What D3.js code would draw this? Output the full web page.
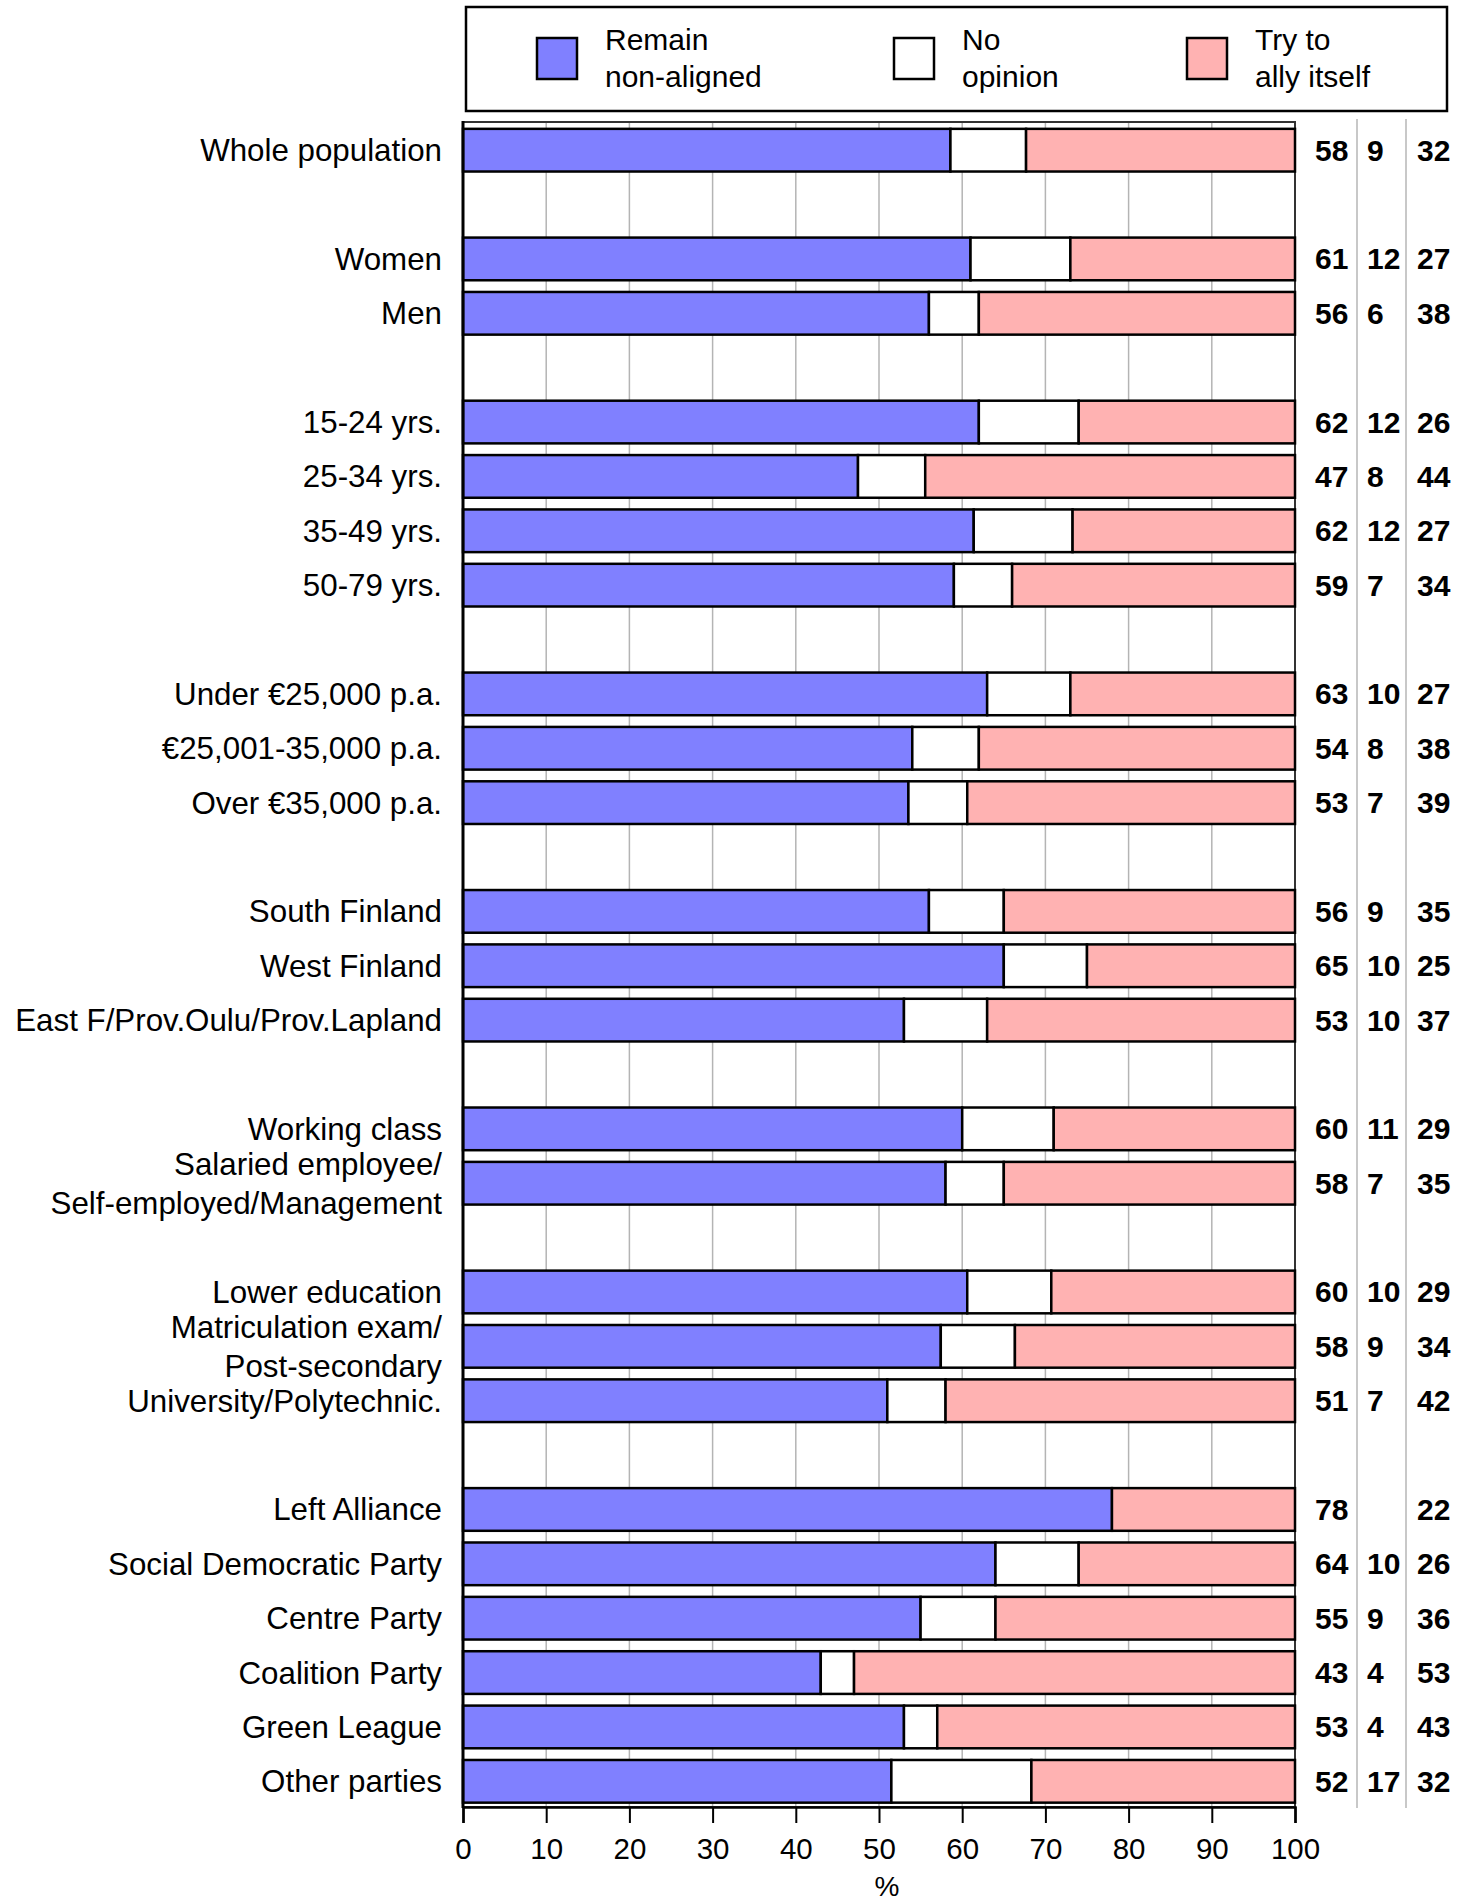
<!DOCTYPE html>
<html>
<head>
<meta charset="utf-8">
<script src="https://cdn.jsdelivr.net/npm/d3@7"></script>
<style>
  body { margin: 0; background: #fff; }
  svg { display: block; font-family: "Liberation Sans", Arial, sans-serif; }
</style>
</head>
<body>
<div id="chart"></div>
<script>
// rows in each group, a blank slot sits between groups
const groupSizes = [1, 2, 4, 3, 3, 2, 3, 6];

const categories = [
  "Whole population",
  "Women", "Men",
  "15-24 yrs.", "25-34 yrs.", "35-49 yrs.", "50-79 yrs.",
  "Under €25,000 p.a.", "€25,001-35,000 p.a.", "Over €35,000 p.a.",
  "South Finland", "West Finland", "East F/Prov.Oulu/Prov.Lapland",
  "Working class", "Salaried employee/\nSelf-employed/Management",
  "Lower education", "Matriculation exam/\nPost-secondary", "University/Polytechnic.",
  "Left Alliance", "Social Democratic Party", "Centre Party", "Coalition Party", "Green League", "Other parties"
];

const remain    = [58, 61, 56, 62, 47, 62, 59, 63, 54, 53, 56, 65, 53, 60, 58, 60, 58, 51, 78, 64, 55, 43, 53, 52];
const noOpinion = [9, 12, 6, 12, 8, 12, 7, 10, 8, 7, 9, 10, 10, 11, 7, 10, 9, 7, null, 10, 9, 4, 4, 17];
const ally      = [32, 27, 38, 26, 44, 27, 34, 27, 38, 39, 35, 25, 37, 29, 35, 29, 34, 42, 22, 26, 36, 53, 43, 32];

const keys = ["remain", "noOpinion", "ally"];
const legendLabels = [["Remain", "non-aligned"], ["No", "opinion"], ["Try to", "ally itself"]];
const colors = ["#8080ff", "#ffffff", "#ffb2b2"];

const width = 1471;
const height = 1904;

// slot index for each row
const slots = [];
let s = 0;
groupSizes.forEach((n, g) => {
  for (let i = 0; i < n; i++) slots.push(s++);
  s++;
});
const nSlots = s - 1;

const table = categories.map((c, i) => ({
  label: c,
  slot: slots[i],
  remain: remain[i],
  noOpinion: noOpinion[i] || 0,
  ally: ally[i],
  raw: [remain[i], noOpinion[i], ally[i]]
}));

const x = d3.scaleLinear().domain([0, 100]).range([463, 1295]);
const y = d3.scaleBand()
  .domain(d3.range(nSlots))
  .range([123, 1808.5])
  .paddingInner(0.215)
  .paddingOuter(0.1075);

const stack = d3.stack().keys(keys).offset(d3.stackOffsetExpand);
const series = stack(table);

const svg = d3.select("#chart")
  .append("svg")
    .attr("width", width)
    .attr("height", height);

const plotTop = 122, plotBottom = 1807;

// gridlines
svg.append("g")
  .selectAll("line")
  .data(d3.range(10, 100, 10))
  .join("line")
    .attr("x1", d => x(d)).attr("x2", d => x(d))
    .attr("y1", plotTop).attr("y2", plotBottom)
    .attr("stroke", "#b4b4b4")
    .attr("stroke-width", 1.5);

// frame
svg.append("rect")
  .attr("x", x(0)).attr("y", plotTop)
  .attr("width", x(100) - x(0)).attr("height", plotBottom - plotTop)
  .attr("fill", "none")
  .attr("stroke", "#333")
  .attr("stroke-width", 2);

// value column separators
svg.append("g")
  .selectAll("line")
  .data([1357, 1406])
  .join("line")
    .attr("x1", d => d).attr("x2", d => d)
    .attr("y1", 119).attr("y2", 1808)
    .attr("stroke", "#c8c8c8")
    .attr("stroke-width", 2);

// bars
svg.append("g")
  .selectAll("g")
  .data(series)
  .join("g")
    .attr("fill", (d, i) => colors[i])
  .selectAll("rect")
  .data(d => d.filter(v => v[1] - v[0] > 0))
  .join("rect")
    .attr("x", d => x(d[0] * 100))
    .attr("y", d => y(d.data.slot))
    .attr("width", d => x(d[1] * 100) - x(d[0] * 100))
    .attr("height", y.bandwidth())
    .attr("stroke", "#000")
    .attr("stroke-width", 2.5);

// left axis line
svg.append("line")
  .attr("x1", x(0)).attr("x2", x(0))
  .attr("y1", plotTop - 1).attr("y2", plotBottom + 1)
  .attr("stroke", "#000")
  .attr("stroke-width", 3);

// category labels
const labels = svg.append("g")
  .attr("text-anchor", "end")
  .attr("font-size", "31.3px")
  .attr("fill", "#000")
  .selectAll("text")
  .data(table)
  .join("text")
    .attr("x", 442)
    .attr("y", d => y(d.slot) + y.bandwidth() / 2);

labels.each(function(d) {
  const lines = d.label.split("\n");
  const t = d3.select(this);
  lines.forEach((ln, i) => {
    t.append("tspan")
      .attr("x", 442)
      .attr("dy", i === 0 ? (0.35 - (lines.length - 1) * 0.62) + "em" : "1.24em")
      .text(ln);
  });
});

// value columns
const colX = [1315, 1367, 1417];
svg.append("g")
  .attr("font-size", "30px")
  .attr("font-weight", "bold")
  .selectAll("g")
  .data(table)
  .join("g")
  .selectAll("text")
  .data(d => d.raw.map((v, i) => ({ v, i, slot: d.slot })))
  .join("text")
    .attr("x", d => colX[d.i])
    .attr("y", d => y(d.slot) + y.bandwidth() / 2)
    .attr("dy", "0.35em")
    .text(d => d.v == null ? "" : d.v);

// x axis
const axis = svg.append("g")
  .attr("transform", `translate(0,${plotBottom})`)
  .call(d3.axisBottom(x).tickValues(d3.range(0, 101, 10)).tickSize(16).tickPadding(15));
axis.select(".domain").attr("stroke", "#000").attr("stroke-width", 2.5);
axis.selectAll(".tick line").attr("stroke", "#000").attr("stroke-width", 2);
axis.selectAll(".tick text")
  .attr("font-size", "29.5px")
  .attr("font-family", "'Liberation Sans', Arial, sans-serif")
  .attr("fill", "#000");

svg.append("text")
  .attr("x", 887)
  .attr("y", 1896)
  .attr("text-anchor", "middle")
  .attr("font-size", "28px")
  .text("%");

// legend
svg.append("rect")
  .attr("x", 466).attr("y", 7)
  .attr("width", 981).attr("height", 104)
  .attr("fill", "#fff")
  .attr("stroke", "#000")
  .attr("stroke-width", 2.5);

const legendX = [537, 894, 1187];
const legend = svg.append("g")
  .selectAll("g")
  .data(keys)
  .join("g")
    .attr("transform", (d, i) => `translate(${legendX[i]},38)`);

legend.append("rect")
  .attr("width", 40).attr("height", 41)
  .attr("fill", (d, i) => colors[i])
  .attr("stroke", "#000")
  .attr("stroke-width", 2.5);

legend.append("text")
  .attr("font-size", "30px")
  .selectAll("tspan")
  .data((d, i) => legendLabels[i])
  .join("tspan")
    .attr("x", 68)
    .attr("y", (d, j) => 12 + j * 37)
    .text(d => d);
</script>
</body>
</html>
